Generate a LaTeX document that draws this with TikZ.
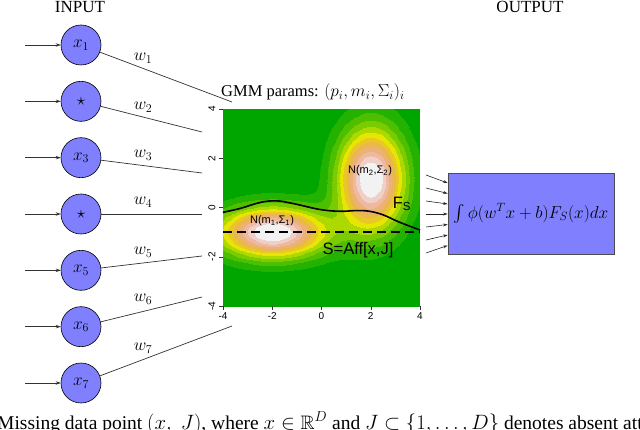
\documentclass[tikz,border=0pt]{standalone}
\usepackage{amssymb}
\usepackage{fontspec}
\setmainfont{Liberation Serif}
\newfontfamily\plotfont{Liberation Sans}
\usepackage{pgfplots}
\pgfplotsset{compat=1.18}
\usetikzlibrary{arrows.meta,calc}
\definecolor{nodeblue}{RGB}{128,128,255}
\begin{document}
\begin{tikzpicture}[
  inode/.style={circle, draw=black, line width=0.6pt, fill=nodeblue, minimum size=40pt, inner sep=0pt, font=\fontsize{16.5}{19}\selectfont},
  inarrow/.style={draw=black!80, line width=0.7pt, -{Stealth[length=5pt,width=3.5pt]}},
  wline/.style={draw=black!80, line width=0.7pt},
  wlabel/.style={font=\fontsize{16.5}{19}\selectfont, inner sep=0pt},
  heading/.style={font=\fontsize{17}{20}\selectfont, inner sep=0pt, anchor=base},
  ticklab/.style={font=\plotfont\fontsize{10}{12}\selectfont, inner sep=0pt},
  plotlab/.style={font=\plotfont\fontsize{11}{13}\selectfont, inner sep=0pt},
  biglab/.style={font=\plotfont\fontsize{16.5}{19}\selectfont, inner sep=0pt},
  tickmark/.style={draw=black!80, line width=0.5pt},
  outbox/.style={draw=black!70, line width=0.7pt, fill=nodeblue, minimum width=166pt, minimum height=81pt, inner sep=0pt, font=\fontsize{17}{20}\selectfont},
  smallarrow/.style={draw=black!85, line width=0.6pt, -{Stealth[length=4.5pt,width=3pt]}},
  fscurve/.style={draw=black, line width=1.6pt},
  sline/.style={draw=black, line width=1.8pt, dash pattern=on 9pt off 5pt},
]
\useasboundingbox (0,0) rectangle (640pt,429pt);
\fill[white] (0,0) rectangle (640pt,429pt);
\begin{axis}[at={(223pt,123pt)}, anchor=south west, scale only axis,
  width=197pt, height=197pt, hide axis, view={0}{90},
  xmin=-4, xmax=4, ymin=-4, ymax=4, enlargelimits=false,
  colormap={terrain}{rgb255=(0,166,0) rgb255=(36,178,0) rgb255=(77,191,0)
    rgb255=(122,204,0) rgb255=(173,217,0) rgb255=(230,230,0) rgb255=(232,199,39)
    rgb255=(234,182,78) rgb255=(236,177,118) rgb255=(238,185,159)
    rgb255=(240,207,200) rgb255=(242,242,242) rgb255=(242,242,242)},
  colormap access=piecewise constant,
  point meta min=0, point meta max=1.04]
\addplot3[surf, shader=interp, domain=-4:4, domain y=-4:4, samples=61]
  {exp(-((x+2)^2/4.5+(y+1)^2/1.0))+exp(-((x-2)^2/1.7+(y-1.15)^2/4.0))};
\end{axis}
\begin{scope}[x=1pt,y=-1pt,shift={(0pt,429pt)}]
  % axes of the density plot
  \foreach \tx/\tl [count=\i] in {223/-4, 272.25/-2, 321.5/0, 370.75/2, 420/4} {
    \draw[tickmark] (\tx,306) -- (\tx,310);
    \node[ticklab] (xt\i) at (\tx,316) {\tl};
  }
  \foreach \ty/\tl [count=\i] in {306/-4, 256.75/-2, 207.5/0, 158.25/2, 109/4} {
    \draw[tickmark] (223,\ty) -- (219,\ty);
    \node[ticklab, rotate=90] (yt\i) at (212,\ty) {\tl};
  }
  % F_S curve and the affine subspace
  \draw[fscurve] plot[smooth, tension=0.6] coordinates {(223,212.3) (240,208.5) (260,202.5) (276,200.8) (293,203.5) (320,209.5) (340,211.3) (356,210.6) (369,211.2) (383,214.8) (399,222) (420,230)};
  \draw[sline] (223,232) -- (420,232);
  \node[plotlab] (n1) at (272,221) {N(m\textsubscript{1},Σ\textsubscript{1})};
  \node[plotlab] (n2) at (370,171) {N(m\textsubscript{2},Σ\textsubscript{2})};
  \node[biglab] (fs) at (402,204) {F\textsubscript{S}};
  \node[biglab] (aff) at (358,250) {S=Aff[x,J]};
  \node[font=\fontsize{16.5}{19}\selectfont, anchor=base west, inner sep=0pt] (title) at (221,97) {GMM params: $(p_i,m_i,\Sigma_i)_i$};
  % headings
  \node[heading] (inp) at (80,12.7) {INPUT};
  \node[heading] (outp) at (530,12.7) {OUTPUT};
  % input nodes
  \foreach \i/\y/\lab in {1/45/x_1, 2/101.33/\star, 3/157.67/x_3, 4/214/\star, 5/270.33/x_5, 6/326.67/x_6, 7/383/x_7} {
    \node[inode] (x\i) at (81,\y) {$\lab$};
    \coordinate (in\i) at (25,\y);
    \draw[inarrow] (in\i) -- (x\i);
  }
  % weighted connections
  \foreach \i/\ex/\ey/\lx/\ly in {1/232/102/143/58, 2/202/132/143/107, 3/202/173/143/155, 4/202/214/143/202, 5/202/256/143/252, 6/202/297/143/299, 7/232/326/143/348} {
    \coordinate (e\i) at (\ex,\ey);
    \draw[wline] (x\i) -- (e\i);
    \node[wlabel] (w\i) at (\lx,\ly) {$w_{\i}$};
  }
  % output box
  \node[outbox] (out) at (531,213.5) {$\int\phi(w^Tx+b)F_S(x)dx$};
  \foreach \i/\sy/\ey in {1/175/183, 2/188/193.5, 3/201/204, 4/214/214, 5/227/224.5, 6/240/235, 7/253/245.5} {
    \coordinate (a\i) at (426,\sy);
    \draw[smallarrow] (a\i) -- ($(out.west)+(0,{\ey-213.5})$);
  }
  % caption (cut at the bottom edge)
  \begin{scope}
    \clip (0,0) rectangle (640,429);
    \node[anchor=base west, inner sep=0pt, font=\fontsize{19.5}{23}\selectfont] (cap) at (-3,429.5) {Missing data point $(x,\;J)$, where $x\in\mathbb{R}^D$ and $J\subset\{1,\ldots,D\}$ denotes absent attributes};
  \end{scope}
\end{scope}
\end{tikzpicture}
\end{document}
